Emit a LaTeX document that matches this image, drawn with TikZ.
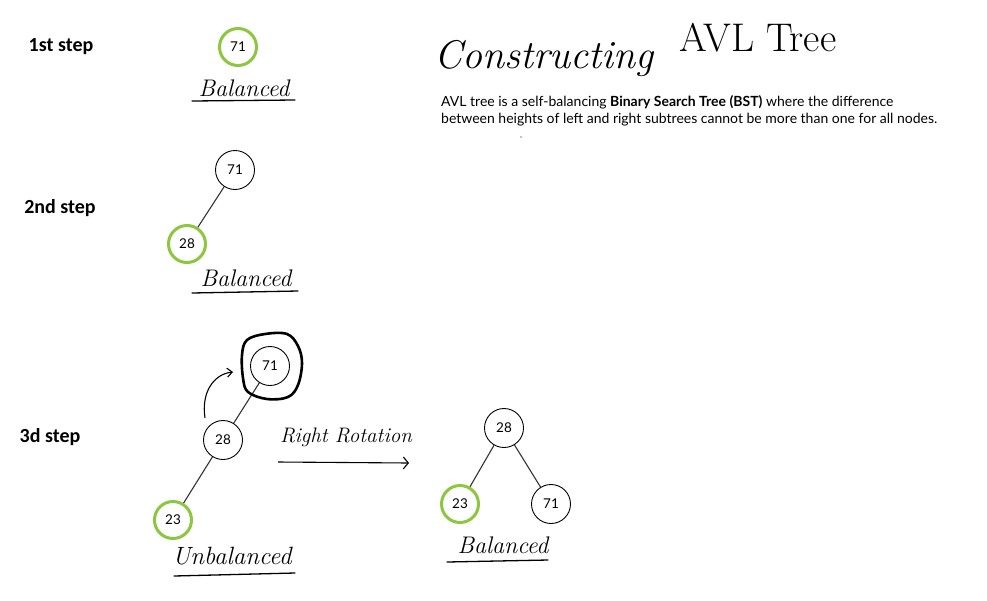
\documentclass[tikz,border=0pt]{standalone}
\usepackage{fontspec}
\setmainfont{Carlito}
\newfontfamily\parafont{Lato}
\newfontfamily\handfam{Latin Modern Roman}
\newcommand{\hand}{\handfam\itshape}
\usetikzlibrary{arrows.meta}
\definecolor{nodegreen}{RGB}{141,198,63}
\begin{document}
\begin{tikzpicture}[x=1pt,y=-1pt,
 bnode/.style={circle,draw=black,line width=0.9pt,minimum size=39pt,inner sep=0pt,font=\parafont\fontsize{13.5}{15}\selectfont},
 gnode/.style={bnode,draw=nodegreen,line width=3pt,minimum size=37pt},
 edge/.style={draw=black!80,line width=1.1pt},
 steplabel/.style={font=\fontsize{20}{24}\selectfont\bfseries},
 handtext/.style={font=\hand\fontsize{24}{26}\selectfont,inner sep=0pt},
 uline/.style={line width=1.3pt,line cap=round},
 paratext/.style={font=\parafont\fontsize{14}{16}\selectfont,anchor=base west,inner sep=0pt}]
\useasboundingbox (0,0) rectangle (987,600);
% title and description
\node[handtext,font=\hand\fontsize{40}{44}\selectfont] (title1) at (544,58) {Constructing};
\node[handtext,font=\handfam\fontsize{40}{44}\selectfont] (title2) at (758,38) {AVL Tree};
\node[paratext] (p1) at (441,106) {AVL tree is a self-balancing \textbf{Binary Search Tree (BST)} where the difference};
\node[paratext] (p2) at (441,123) {between heights of left and right subtrees cannot be more than one for all nodes.};
\fill (521,137) circle (0.7);
% step 1
\node[steplabel] (s1) at (61,47) {1st step};
\node[gnode] (a71) at (238,47) {71};
\node[handtext] (bal1) at (244,88) {Balanced};
\coordinate (u1a) at (192,101); \coordinate (u1b) at (295,100);
\draw[uline] (u1a) -- (u1b);
% step 2
\node[steplabel] (s2) at (60,208) {2nd step};
\node[bnode] (b71) at (235,170) {71};
\node[gnode] (b28) at (187,244) {28};
\draw[edge] (b71) -- (b28);
\node[handtext] (bal2) at (246,278) {Balanced};
\coordinate (u2a) at (192,293); \coordinate (u2b) at (298,291);
\draw[uline] (u2a) -- (u2b);
% step 3
\node[steplabel] (s3) at (50,437) {3d step};
\node[bnode] (c71) at (270,366) {71};
\node[bnode] (c28) at (223,440) {28};
\node[gnode] (c23) at (173,520) {23};
\draw[edge] (c71) -- (c28);
\draw[edge] (c28) -- (c23);
\draw[line width=2.6pt,line join=round] plot[smooth cycle,tension=0.6] coordinates {(247,340) (265,334) (287,334) (298,346) (302,363) (298,385) (288,397) (267,399) (248,392) (243,378) (242,355)};
\coordinate (r1) at (205,418); \coordinate (r2) at (233,372);
\draw[line width=1.1pt,-{Straight Barb[length=5pt,width=9pt]}] (r1) .. controls (201,392) and (214,374) .. (r2);
\node[handtext,font=\hand\fontsize{25}{27}\selectfont] (unbal) at (232,556) {Unbalanced};
\coordinate (u3a) at (174,576); \coordinate (u3b) at (295,573);
\draw[uline] (u3a) -- (u3b);
% rotation
\node[handtext,font=\hand\fontsize{21}{24}\selectfont] (rot) at (346,437) {Right Rotation};
\coordinate (ra) at (278,462); \coordinate (rb) at (409,463);
\draw[line width=1.1pt,-{Straight Barb[length=5pt,width=12pt]}] (ra) -- (rb);
% result tree
\node[bnode] (d28) at (504,428) {28};
\node[gnode] (d23) at (460,504) {23};
\node[bnode] (d71) at (551,504) {71};
\draw[edge] (d28) -- (d23);
\draw[edge] (d28) -- (d71);
\node[handtext] (bal3) at (503,545) {Balanced};
\coordinate (u4a) at (447,562); \coordinate (u4b) at (548,560);
\draw[uline] (u4a) -- (u4b);
\end{tikzpicture}
\end{document}
